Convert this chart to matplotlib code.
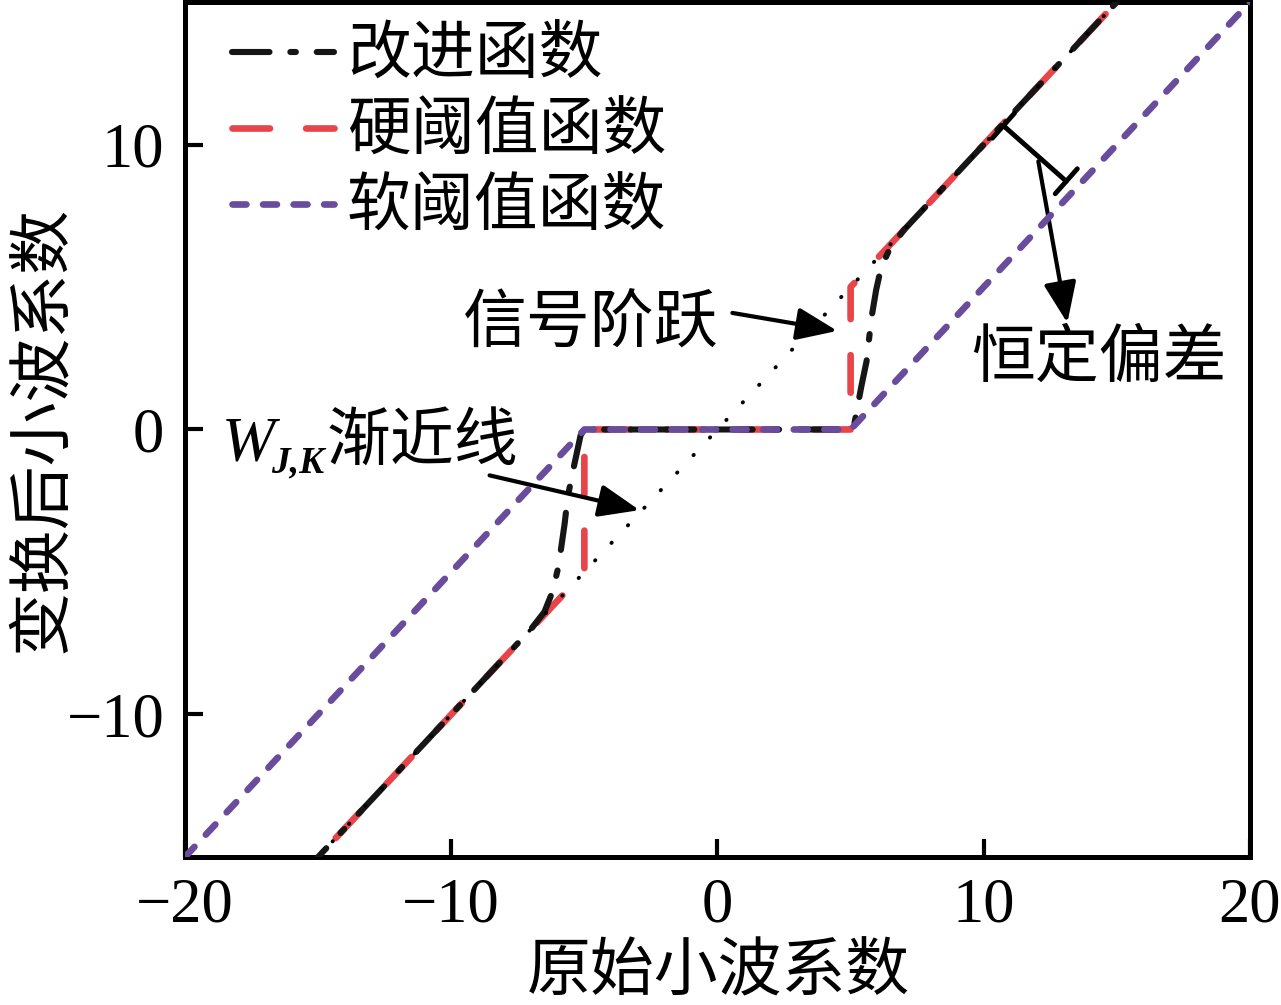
import numpy as np
import matplotlib
matplotlib.use('Agg')
import matplotlib.pyplot as plt

plt.rcParams['font.family'] = ['Liberation Serif', 'Noto Sans CJK SC']
plt.rcParams['lines.scale_dashes'] = False
plt.rcParams['axes.unicode_minus'] = True

CJK = ['Noto Sans CJK SC', 'Liberation Serif']

# data
soft_x = [-20, -5, 5, 20]
soft_y = [-15, 0, 0, 15]

hard_x = [-20, -5, -5, 5, 5, 20]
hard_y = [-20, -5, 0, 0, 5, 20]

improved_x = [-20, -7, -6.5, -6.2, -5.97, -5.74, -5.63, -5.44, -5.14, -5,
              5, 5.14, 5.4, 5.6, 5.78, 5.96, 6.15, 6.5, 7, 20]
improved_y = [-20, -7, -6.4, -5.7, -4.8, -3.3, -2.4, -1.5, -0.2, 0,
              0, 0.2, 1.5, 2.4, 3.9, 4.9, 5.7, 6.4, 7, 20]

asym_x = [-20, 20]
asym_y = [-20, 20]

xticks = [-20, -10, 0, 10, 20]
yticks = [-10, 0, 10]

fig = plt.figure(figsize=(12.81, 10.05), dpi=100)
ax = fig.add_axes([0.1444, 0.1473, 0.8314, 0.8507])

ax.plot(hard_x, hard_y, color='#e8454a', lw=4.8, dashes=(27, 26),
        dash_capstyle='round', zorder=2, label='硬阈值函数')
ax.plot(improved_x, improved_y, color='#161616', lw=4.4, dashes=(27, 15, 4, 15),
        dash_capstyle='round', zorder=3, label='改进函数')
ax.plot(soft_x, soft_y, color='#6a4c9c', lw=4.8, dashes=(10, 12),
        dash_capstyle='round', zorder=4, label='软阈值函数')
ax.plot(asym_x, asym_y, color='black', lw=2.8, dashes=(0.3, 17),
        dash_capstyle='round', zorder=5)

ax.set_xlim(-20, 20)
ax.set_ylim(-15, 15)
ax.set_xticks(xticks)
ax.set_yticks(yticks)
ax.tick_params(direction='in', length=13, width=3, labelsize=45)
ax.tick_params(axis='x', pad=15)
ax.tick_params(axis='y', pad=15)
for s in ax.spines.values():
    s.set_linewidth(3.6)

ax.set_xlabel('原始小波系数', family=CJK, fontsize=46)
ax.xaxis.set_label_coords(0.5005, -0.096)
ax.set_ylabel('变换后小波系数', family=CJK, fontsize=46)
ax.yaxis.set_label_coords(-0.103, 0.5)

# legend in the order of the reference
h, l = ax.get_legend_handles_labels()
order = [1, 0, 2]
leg = ax.legend([h[i] for i in order], [l[i] for i in order], loc='upper left',
                bbox_to_anchor=(0.02, 1.006), frameon=False,
                prop={'family': CJK, 'size': 46}, handlelength=1.6,
                handletextpad=0.2, labelspacing=0.15, borderaxespad=0.0)

arrow = dict(arrowstyle='-|>,head_length=1.25,head_width=0.5', color='black',
             lw=3, mutation_scale=20, shrinkA=0, shrinkB=0)

# signal step
ax.annotate('', xy=(4.5, 3.46), xytext=(0.56, 4.09), arrowprops=arrow)
ax.text(-9.55, 3.7, '信号阶跃', family=CJK, fontsize=46, va='center', ha='left')

# asymptote
ax.annotate('', xy=(-2.93, -2.83), xytext=(-8.56, -1.61), arrowprops=arrow)
ax.text(-18.63, -1.08, 'W', fontsize=46, style='italic', va='baseline', ha='left')
ax.text(-16.75, -1.5, 'J,K', fontsize=27, style='italic', weight='bold',
        va='baseline', ha='left')
ax.text(-14.7, -1.08, '渐近线', family=CJK, fontsize=46, va='baseline', ha='left')

# constant bias
ax.annotate('', xy=(13.1, 8.71), xytext=(10.74, 10.66),
            arrowprops=dict(arrowstyle='|-|,widthA=0.6,widthB=0.6', color='black',
                            lw=3.5, mutation_scale=20, shrinkA=0, shrinkB=0))
ax.annotate('', xy=(13.14, 3.74), xytext=(12.05, 9.41), arrowprops=arrow)
ax.text(14.34, 2.48, '恒定偏差', family=CJK, fontsize=46, va='center', ha='center')

fig.savefig('out.png', dpi=100)
